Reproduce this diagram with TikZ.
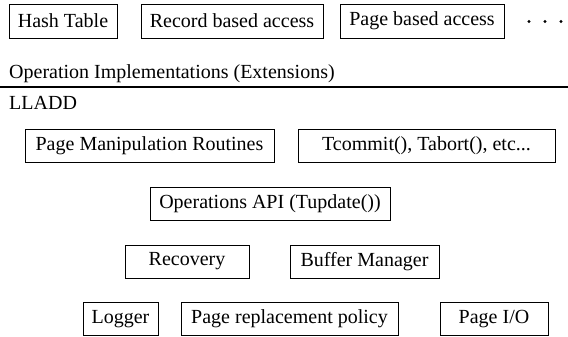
\documentclass[tikz,border=0pt]{standalone}
\usepackage{fontspec}
\setmainfont{Liberation Serif}
\newfontfamily\boxfont{Liberation Serif}
\tikzset{
	blk/.style={draw, line width=0.8pt, inner sep=0pt, minimum height=33pt, font=\boxfont\fontsize{20}{22}\selectfont},
	lbl/.style={anchor=base west, inner sep=0pt, font=\boxfont\fontsize{20}{22}\selectfont}
}

\begin{document}
\begin{tikzpicture}[x=1pt, y=-1pt]
			%%%%% START %%%%%
			\useasboundingbox (0, 0) rectangle (568, 337);
			
			\node[blk, minimum width=108pt, minimum height=34pt] (hash) at (63, 21) {Hash Table};
			\node[blk, minimum width=182pt, minimum height=34pt] (rec) at (232, 21) {Record based access};
			\node[blk, minimum width=164pt, minimum height=34pt] (pba) at (422, 21) {Page based access};
			\foreach \x in {529, 545, 561}
				\fill (\x, 21.5) circle (1.6);
			
			\node[lbl] (ext) at (9, 78) {Operation Implementations (Extensions)};
			\draw[line width=1.3pt] (0, 87) -- (568, 87);
			\node[lbl] (lladd) at (9, 110) {LLADD};
			
			\node[blk, minimum width=249pt] (pmr) at (149.5, 145.5) {Page Manipulation Routines};
			\node[blk, minimum width=257pt] (tcm) at (426.5, 145.5) {\hfill Tcommit(), Tabort(), etc...\hspace{3pt}};
			
			\node[blk, minimum width=240pt] (api) at (270, 204) {Operations API (Tupdate())};
			
			\node[blk, minimum width=124pt] (rcv) at (187, 261.5) {Recovery};
			\node[blk, minimum width=149pt] (bufm) at (364.5, 261.5) {Buffer Manager};
			
			\node[blk, minimum width=75pt] (logr) at (120.5, 319) {Logger};
			\node[blk, minimum width=217pt] (prp) at (289.5, 319) {Page replacement policy};
			\node[blk, minimum width=108pt] (pio) at (494, 319) {Page I/O};
			%%%%% END %%%%%
\end{tikzpicture}
\end{document}
